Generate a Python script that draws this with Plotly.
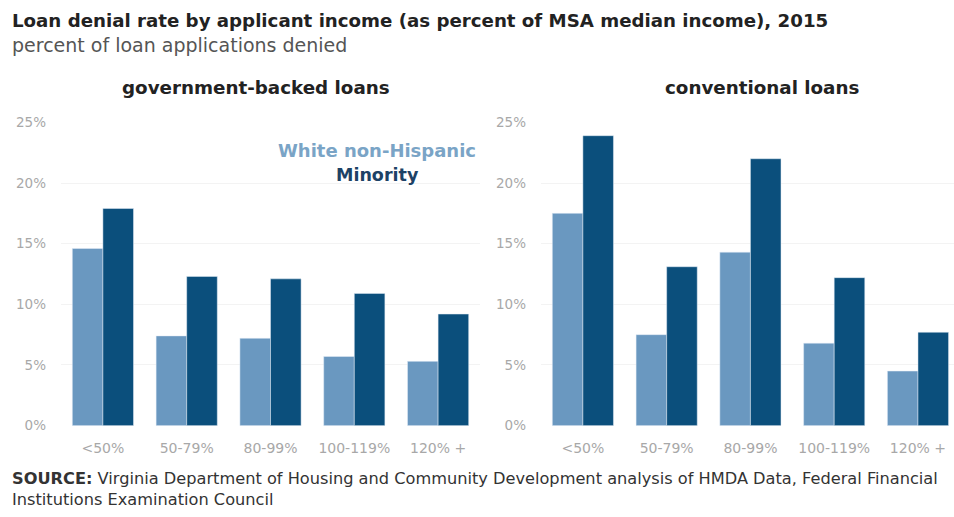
import plotly.graph_objects as go

# Income brackets (as percent of MSA median income)
categories = ["<50%", "50-79%", "80-99%", "100-119%", "120% +"]

# Denial rates (%), government-backed loans
gov_white = [14.6, 7.4, 7.2, 5.7, 5.3]
gov_minority = [17.9, 12.3, 12.1, 10.9, 9.2]

# Denial rates (%), conventional loans
conv_white = [17.5, 7.5, 14.3, 6.8, 4.5]
conv_minority = [23.9, 13.1, 22.0, 12.2, 7.7]

y_ticks = [0, 5, 10, 15, 20, 25]
y_tick_labels = ["0%", "5%", "10%", "15%", "20%", "25%"]

WHITE_COLOR = "#6a98c0"
MINORITY_COLOR = "#0b4f7c"
FONT = "DejaVu Sans, Verdana, sans-serif"

fig = go.Figure()

fig.add_trace(go.Bar(x=categories, y=gov_white, marker_color=WHITE_COLOR,
                     xaxis="x", yaxis="y", name="White non-Hispanic"))
fig.add_trace(go.Bar(x=categories, y=gov_minority, marker_color=MINORITY_COLOR,
                     xaxis="x", yaxis="y", name="Minority"))
fig.add_trace(go.Bar(x=categories, y=conv_white, marker_color=WHITE_COLOR,
                     xaxis="x2", yaxis="y2", name="White non-Hispanic"))
fig.add_trace(go.Bar(x=categories, y=conv_minority, marker_color=MINORITY_COLOR,
                     xaxis="x2", yaxis="y2", name="Minority"))

W, H = 954, 517
y_dom = [1 - 431 / H, 1 - 118 / H]

xaxis_common = dict(
    type="category", showgrid=False, zeroline=False, showline=False,
    ticks="", tickfont=dict(family=FONT, size=14, color="#a8a8a8"),
    ticklabelstandoff=12,
)
yaxis_common = dict(
    range=[0, 25], tickvals=y_ticks, ticktext=y_tick_labels,
    showgrid=True, gridcolor="#f3f3f3", gridwidth=1, zeroline=False,
    showline=False, ticks="", tickfont=dict(family=FONT, size=13.5, color="#a8a8a8"),
    ticklabelstandoff=14,
)

fig.update_layout(
    width=W, height=H,
    margin=dict(l=0, r=0, t=0, b=0),
    paper_bgcolor="white", plot_bgcolor="white",
    barmode="group", bargap=0.27, bargroupgap=0,
    showlegend=False,
    xaxis=dict(domain=[61 / W, 480 / W], range=[-0.5, 4.5], anchor="y", **xaxis_common),
    xaxis2=dict(domain=[541 / W, 1.0], range=[-0.5, 4.43], anchor="y2", **xaxis_common),
    yaxis=dict(domain=y_dom, anchor="x", **yaxis_common),
    yaxis2=dict(domain=y_dom, anchor="x2", **yaxis_common),
)

annotations = [
    dict(text="<b>Loan denial rate by applicant income (as percent of MSA median income), 2015</b>",
         x=10 / W, y=1 - 13 / H, xanchor="left", yanchor="middle",
         font=dict(family=FONT, size=18.2, color="#222222")),
    dict(text="percent of loan applications denied",
         x=10 / W, y=1 - 38 / H, xanchor="left", yanchor="middle",
         font=dict(family=FONT, size=19, color="#555555")),
    dict(text="<b>government-backed loans</b>",
         x=256 / W, y=1 - 82 / H, xanchor="center", yanchor="middle",
         font=dict(family=FONT, size=18.3, color="#222222")),
    dict(text="<b>conventional loans</b>",
         x=762 / W, y=1 - 82 / H, xanchor="center", yanchor="middle",
         font=dict(family=FONT, size=18.3, color="#222222")),
    dict(text="<b>White non-Hispanic</b>",
         x=377 / W, y=1 - 147 / H, xanchor="center", yanchor="middle",
         font=dict(family=FONT, size=18, color="#7aa4c6")),
    dict(text="<b>Minority</b>",
         x=377 / W, y=1 - 172 / H, xanchor="center", yanchor="middle",
         font=dict(family=FONT, size=17.5, color="#1d4266")),
    dict(text="<b>SOURCE:</b> Virginia Department of Housing and Community Development analysis of HMDA Data, Federal Financial<br>Institutions Examination Council",
         x=10 / W, y=1 - 474 / H, xanchor="left", yanchor="top", align="left",
         font=dict(family=FONT, size=16.2, color="#333333")),
]
for a in annotations:
    a.update(xref="paper", yref="paper", showarrow=False)
fig.update_layout(annotations=annotations)

fig.write_html("out.html")
